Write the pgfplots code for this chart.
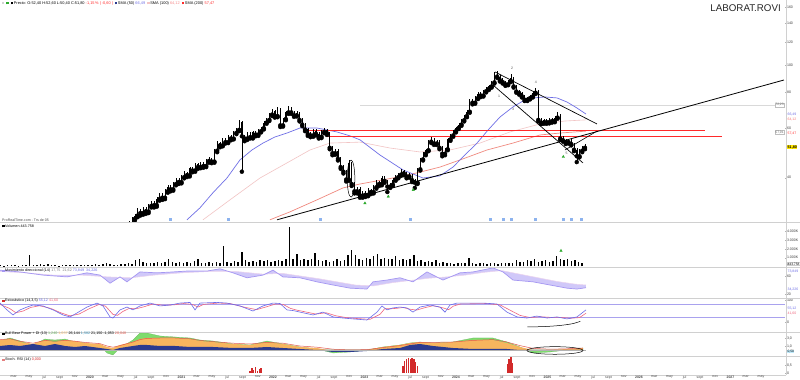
\documentclass[border=0pt]{standalone}
\usepackage{fontspec}
\setmainfont{Liberation Sans}
\usepackage{pgfplots}
\usepackage{pgfplotstable}
\pgfplotsset{compat=1.18}

\definecolor{smablue}{HTML}{6F6FE6}
\definecolor{smared}{HTML}{F08A80}
\definecolor{smapink}{HTML}{F2C4C4}
\definecolor{hred}{HTML}{FF2A2A}
\definecolor{mvline}{HTML}{A597F2}
\definecolor{mvsigc}{HTML}{EBD3EE}
\definecolor{mvfill}{HTML}{B7ACF6}
\definecolor{stblue}{HTML}{6B6BEA}
\definecolor{stred}{HTML}{F0667E}
\definecolor{stband}{HTML}{A9A2EE}
\definecolor{bbgreen}{HTML}{7EDC6E}
\definecolor{bborange}{HTML}{F7B55E}
\definecolor{bbblue}{HTML}{2B3A8F}
\definecolor{bbred}{HTML}{E2574C}
\definecolor{histred}{HTML}{D22A2A}
\definecolor{sep}{HTML}{D0D0D0}
\definecolor{divblue}{HTML}{8DB3EE}
\definecolor{arrowgreen}{HTML}{2DAA2D}
\definecolor{labyellow}{HTML}{FFE600}

% candles: time (years), open, high, low, close
\pgfplotstableread{
t o h l c
2020.40 26.4 27.4 26.0 27.0
2020.43 27.0 28.2 26.6 27.8
2020.46 27.8 29.0 27.4 28.6
2020.49 28.6 29.8 28.2 29.4
2020.52 29.4 31.2 29.0 30.6
2020.55 30.6 31.0 29.4 30.0
2020.58 30.0 31.6 29.6 31.0
2020.61 31.0 31.4 29.8 30.4
2020.64 30.4 32.4 30.0 31.8
2020.67 31.8 33.2 31.4 32.6
2020.70 32.6 33.0 31.4 32.0
2020.73 32.0 34.2 31.6 33.6
2020.76 33.6 35.4 33.2 34.8
2020.79 34.8 35.2 33.4 34.0
2020.82 34.0 36.4 33.6 35.8
2020.85 35.8 37.8 35.4 37.2
2020.88 37.2 37.6 35.8 36.4
2020.91 36.4 38.6 36.0 38.0
2020.94 38.0 40.0 37.6 39.4
2020.97 39.4 39.8 38.0 38.6
2021.00 38.6 40.8 38.2 40.2
2021.03 40.2 42.2 39.8 41.6
2021.06 41.6 42.0 40.2 40.8
2021.09 40.8 43.8 40.4 43.2
2021.12 43.2 43.6 41.8 42.4
2021.15 42.4 45.2 42.0 44.6
2021.18 44.6 45.0 43.0 43.6
2021.21 43.6 45.6 43.2 45.0
2021.24 45.0 45.4 43.4 44.0
2021.27 44.0 46.4 43.6 45.8
2021.30 45.8 47.2 45.2 46.6
2021.33 46.6 47.0 45.0 45.6
2021.36 45.6 50.4 45.2 49.8
2021.39 49.8 53.8 49.2 53.0
2021.42 53.0 53.6 51.2 52.0
2021.45 52.0 55.4 51.6 54.6
2021.48 54.6 55.2 52.8 53.4
2021.51 53.4 56.6 53.0 55.8
2021.54 55.8 56.4 54.2 55.0
2021.57 55.0 58.4 54.6 57.6
2021.60 57.6 59.8 57.0 59.0
2021.63 59.0 63.8 58.4 62.8
2021.66 62.8 63.4 42.0 56.0
2021.69 56.0 56.8 53.8 55.0
2021.72 55.0 58.0 54.4 57.2
2021.75 57.2 57.8 55.0 55.6
2021.78 55.6 58.6 55.0 57.8
2021.81 57.8 58.4 56.0 56.8
2021.84 56.8 59.2 56.2 58.4
2021.87 58.4 60.6 57.8 59.8
2021.90 59.8 63.4 59.2 62.6
2021.93 62.6 65.0 62.0 64.0
2021.96 64.0 67.8 63.4 66.8
2021.99 66.8 69.8 66.0 68.6
2022.02 68.6 69.4 65.2 66.0
2022.05 66.0 71.0 65.4 69.6
2022.08 69.6 70.2 60.4 61.2
2022.11 61.2 65.2 60.6 64.4
2022.14 64.4 68.8 63.8 68.0
2022.17 68.0 71.6 67.2 70.6
2022.20 70.6 71.2 67.2 68.0
2022.23 68.0 68.8 65.6 66.4
2022.26 66.4 68.6 65.8 67.6
2022.29 67.6 68.2 63.2 64.0
2022.32 64.0 64.8 60.8 61.6
2022.35 61.6 62.4 58.4 59.2
2022.38 59.2 59.8 56.2 57.0
2022.41 57.0 57.8 55.6 56.4
2022.44 56.4 59.4 55.8 58.6
2022.47 58.6 59.2 56.4 57.2
2022.50 57.2 57.8 55.0 55.8
2022.53 55.8 58.8 55.2 58.0
2022.56 58.0 59.8 57.4 59.0
2022.59 59.0 59.6 56.6 57.4
2022.62 57.4 58.0 50.4 51.0
2022.65 51.0 51.6 48.0 48.8
2022.68 48.8 50.6 48.2 49.8
2022.71 49.8 50.4 46.0 46.6
2022.74 46.6 47.2 43.0 43.6
2022.77 43.6 44.2 41.4 42.0
2022.80 42.0 42.6 38.8 39.4
2022.83 39.4 46.2 39.0 45.0
2022.86 45.0 45.6 37.4 38.0
2022.89 38.0 38.6 35.2 35.8
2022.92 35.8 37.2 35.2 36.6
2022.95 36.6 37.0 34.0 34.6
2022.98 34.6 36.0 34.0 35.4
2023.01 35.4 35.8 34.2 34.8
2023.04 34.8 36.8 34.4 36.2
2023.07 36.2 36.6 35.0 35.6
2023.10 35.6 37.6 35.2 37.0
2023.13 37.0 39.2 36.6 38.6
2023.16 38.6 39.0 37.4 38.0
2023.19 38.0 40.6 37.6 40.0
2023.22 40.0 40.4 38.4 39.0
2023.25 39.0 39.4 35.6 37.2
2023.28 37.2 38.4 36.8 37.8
2023.31 37.8 40.0 37.4 39.4
2023.34 39.4 40.8 39.0 40.2
2023.37 40.2 41.6 39.8 41.0
2023.40 41.0 42.8 40.6 42.2
2023.43 42.2 42.6 40.8 41.4
2023.46 41.4 41.8 39.8 40.4
2023.49 40.4 41.4 40.0 40.8
2023.52 40.8 41.2 38.6 39.2
2023.55 39.2 39.6 36.8 38.4
2023.58 38.4 43.4 38.0 42.8
2023.61 42.8 47.0 42.4 46.4
2023.64 46.4 49.2 46.0 48.6
2023.67 48.6 50.6 48.0 50.0
2023.70 50.0 54.2 49.6 53.6
2023.73 53.6 55.6 53.0 54.8
2023.76 54.8 55.4 52.2 52.8
2023.79 52.8 54.4 52.2 53.6
2023.82 53.6 54.2 50.4 51.0
2023.85 51.0 51.6 47.6 48.6
2023.88 48.6 51.0 48.0 50.4
2023.91 50.4 55.2 50.0 54.6
2023.94 54.6 57.0 54.0 56.4
2023.97 56.4 59.0 55.8 58.4
2024.00 58.4 60.6 57.8 60.0
2024.03 60.0 62.2 59.4 61.6
2024.06 61.6 64.4 61.0 63.8
2024.09 63.8 66.8 63.2 66.0
2024.12 66.0 69.2 65.4 68.4
2024.15 68.4 75.8 67.8 74.8
2024.18 74.8 75.6 72.6 73.6
2024.21 73.6 77.4 73.0 76.4
2024.24 76.4 80.2 75.8 79.2
2024.27 79.2 80.0 77.0 78.0
2024.30 78.0 81.8 77.4 80.8
2024.33 80.8 83.4 80.0 82.4
2024.36 82.4 85.0 81.6 84.0
2024.39 84.0 87.8 83.2 86.8
2024.42 86.8 94.8 86.0 92.6
2024.45 92.6 95.2 90.0 91.0
2024.48 91.0 92.0 87.4 88.4
2024.51 88.4 89.6 86.0 87.0
2024.54 87.0 88.0 84.4 85.4
2024.57 85.4 88.8 84.8 87.8
2024.60 87.8 93.0 87.0 90.0
2024.63 90.0 90.8 83.2 84.0
2024.66 84.0 84.8 79.8 80.6
2024.69 80.6 81.4 78.6 79.6
2024.72 79.6 80.4 76.8 77.6
2024.75 77.6 78.4 74.6 75.4
2024.78 75.4 77.2 74.6 76.4
2024.81 76.4 78.2 75.6 77.4
2024.84 77.4 80.8 76.8 79.8
2024.87 79.8 83.2 79.0 81.0
2024.90 81.0 81.6 63.2 64.0
2024.93 64.0 64.8 61.8 62.6
2024.96 62.6 64.6 62.0 63.8
2024.99 63.8 64.4 62.0 62.8
2025.02 62.8 65.2 62.2 64.4
2025.05 64.4 65.0 62.6 63.4
2025.08 63.4 66.0 62.8 65.2
2025.11 65.2 68.0 64.6 66.4
2025.14 66.4 67.0 54.4 55.0
2025.17 55.0 56.2 53.6 54.2
2025.20 54.2 55.0 52.6 53.4
2025.23 53.4 54.8 52.8 54.0
2025.26 54.0 54.6 52.0 52.6
2025.29 52.6 53.2 49.6 50.2
2025.32 50.2 50.8 45.4 47.6
2025.35 47.6 50.6 47.2 49.8
2025.38 49.8 51.8 49.2 51.0
2025.41 51.0 52.6 50.4 51.8
}\candles

\pgfplotstableread{
t p
2021.060 28.4
2021.202 31.3
2021.344 35.4
2021.497 39.9
2021.639 46.2
2021.770 50.1
2021.891 53.0
2022.022 55.7
2022.153 57.5
2022.295 59.9
2022.481 59.9
2022.699 58.0
2022.842 56.2
2022.951 54.4
2023.169 48.1
2023.421 42.6
2023.639 39.9
2023.825 40.6
2023.967 43.6
2024.098 48.1
2024.230 53.0
2024.350 58.9
2024.481 65.5
2024.623 71.1
2024.732 74.6
2024.842 76.5
2024.973 77.1
2025.104 76.5
2025.213 74.0
2025.322 70.5
2025.421 67.1
}\smaA

\pgfplotstableread{
t p
2021.235 28.4
2021.530 33.4
2021.858 39.9
2022.153 45.1
2022.404 50.1
2022.623 53.0
2022.951 53.4
2023.279 50.9
2023.607 49.3
2023.934 50.1
2024.262 53.0
2024.590 58.0
2024.918 61.9
2025.191 63.4
2025.421 64.0
}\smaB

\pgfplotstableread{
t p
2021.967 28.4
2022.186 30.3
2022.481 33.4
2022.765 36.8
2022.951 38.0
2023.311 39.9
2023.574 41.6
2023.825 43.6
2024.044 46.2
2024.339 50.1
2024.623 53.0
2024.918 56.6
2025.137 57.5
2025.421 58.4
}\smaC

\pgfplotstableread{
t v
2019.02 0.15
2019.06 0.10
2019.10 0.20
2019.14 0.12
2019.18 0.18
2019.22 0.10
2019.26 0.22
2019.30 0.15
2019.34 1.30
2019.38 0.12
2019.42 0.18
2019.46 0.28
2019.50 0.15
2019.54 0.25
2019.58 0.12
2019.62 0.15
2019.66 0.10
2019.70 0.18
2019.74 0.12
2019.78 0.15
2019.82 0.20
2019.86 0.12
2019.90 0.18
2019.94 0.15
2019.98 0.22
2020.02 0.18
2020.06 0.25
2020.10 0.20
2020.14 0.30
2020.18 0.45
2020.22 0.25
2020.26 0.18
2020.30 0.22
2020.34 0.30
2020.38 0.25
2020.42 0.35
2020.46 0.30
2020.50 0.70
2020.54 0.85
2020.58 0.55
2020.62 0.40
2020.66 0.45
2020.70 0.35
2020.74 0.50
2020.78 0.40
2020.82 0.55
2020.86 0.80
2020.90 0.50
2020.94 0.45
2020.98 0.55
2021.02 0.40
2021.06 0.50
2021.10 0.45
2021.14 0.60
2021.18 0.85
2021.22 0.45
2021.26 0.40
2021.30 0.50
2021.34 0.35
2021.38 0.55
2021.42 0.45
2021.46 2.30
2021.50 0.55
2021.54 0.45
2021.58 0.60
2021.62 0.50
2021.66 1.60
2021.70 0.70
2021.74 0.55
2021.78 0.65
2021.82 0.50
2021.86 0.75
2021.90 0.60
2021.94 0.70
2021.98 0.55
2022.02 0.65
2022.06 0.75
2022.10 0.60
2022.14 0.80
2022.18 4.55
2022.22 0.90
2022.26 1.45
2022.30 0.75
2022.34 0.85
2022.38 0.70
2022.42 0.80
2022.46 1.50
2022.50 0.70
2022.54 0.60
2022.58 0.75
2022.62 0.55
2022.66 0.65
2022.70 0.80
2022.74 0.60
2022.78 0.75
2022.82 1.30
2022.86 1.90
2022.90 1.35
2022.94 0.90
2022.98 0.75
2023.02 1.00
2023.06 0.80
2023.10 1.20
2023.14 1.40
2023.18 0.85
2023.22 1.00
2023.26 0.80
2023.30 0.90
2023.34 1.20
2023.38 0.75
2023.42 0.90
2023.46 0.70
2023.50 0.85
2023.54 1.30
2023.58 0.60
2023.62 0.70
2023.66 0.50
2023.70 0.65
2023.74 0.55
2023.78 0.70
2023.82 0.45
2023.86 0.55
2023.90 0.40
2023.94 0.35
2023.98 0.30
2024.02 0.40
2024.06 0.35
2024.10 0.45
2024.14 1.00
2024.18 0.40
2024.22 0.30
2024.26 0.35
2024.30 0.40
2024.34 0.30
2024.38 0.35
2024.42 0.45
2024.46 0.30
2024.50 0.40
2024.54 0.35
2024.58 0.45
2024.62 0.40
2024.66 0.75
2024.70 0.50
2024.74 0.55
2024.78 0.70
2024.82 0.60
2024.86 0.90
2024.90 0.55
2024.94 0.65
2024.98 0.75
2025.02 0.50
2025.06 0.65
2025.10 1.15
2025.14 0.85
2025.18 0.75
2025.22 0.80
2025.26 0.65
2025.30 0.70
2025.34 0.55
2025.38 0.45
}\volume

\pgfplotstableread{
t v
2019.016 73
2019.235 69
2019.486 62
2019.749 58
2019.967 67
2020.109 62
2020.219 44
2020.328 58
2020.404 47
2020.546 69
2020.732 67
2020.907 69
2021.060 71
2021.279 71
2021.421 76
2021.563 67
2021.716 56
2021.891 62
2022.000 73
2022.109 58
2022.295 56
2022.481 47
2022.656 40
2022.842 33
2023.027 31
2023.093 47
2023.246 51
2023.388 56
2023.530 47
2023.683 69
2023.858 51
2024.044 67
2024.186 69
2024.404 78
2024.514 69
2024.623 51
2024.842 47
2025.027 40
2025.213 33
2025.322 31
2025.421 34
}\mvmain

\pgfplotstableread{
t v
2019.016 70
2019.300 67
2019.600 62
2019.900 62
2020.200 58
2020.450 56
2020.700 62
2021.000 67
2021.300 70
2021.600 70
2021.900 64
2022.100 66
2022.300 60
2022.500 54
2022.700 47
2022.900 40
2023.100 38
2023.300 45
2023.500 50
2023.700 55
2023.900 58
2024.100 62
2024.300 68
2024.500 72
2024.700 64
2024.900 56
2025.100 48
2025.300 42
2025.421 40
}\mvsignal

% area between main line (forward) and signal line (backward)
\pgfplotstableread{
t v
2019.016 73
2019.235 69
2019.486 62
2019.749 58
2019.967 67
2020.109 62
2020.219 44
2020.328 58
2020.404 47
2020.546 69
2020.732 67
2020.907 69
2021.060 71
2021.279 71
2021.421 76
2021.563 67
2021.716 56
2021.891 62
2022.000 73
2022.109 58
2022.295 56
2022.481 47
2022.656 40
2022.842 33
2023.027 31
2023.093 47
2023.246 51
2023.388 56
2023.530 47
2023.683 69
2023.858 51
2024.044 67
2024.186 69
2024.404 78
2024.514 69
2024.623 51
2024.842 47
2025.027 40
2025.213 33
2025.322 31
2025.421 34
2025.421 40
2025.300 42
2025.100 48
2024.900 56
2024.700 64
2024.500 72
2024.300 68
2024.100 62
2023.900 58
2023.700 55
2023.500 50
2023.300 45
2023.100 38
2022.900 40
2022.700 47
2022.500 54
2022.300 60
2022.100 66
2021.900 64
2021.600 70
2021.300 70
2021.000 67
2020.700 62
2020.450 56
2020.200 58
2019.900 62
2019.600 62
2019.300 67
2019.016 70
}\mvarea

\pgfplotstableread{
t v
2019.016 86
2019.093 55
2019.158 32
2019.235 55
2019.311 68
2019.377 77
2019.486 73
2019.596 55
2019.705 32
2019.781 23
2019.858 41
2019.967 68
2020.077 86
2020.142 73
2020.219 23
2020.251 18
2020.328 55
2020.404 68
2020.470 55
2020.546 73
2020.656 86
2020.765 73
2020.874 77
2020.984 86
2021.093 89
2021.148 55
2021.202 86
2021.388 89
2021.497 86
2021.639 73
2021.781 50
2021.891 73
2022.000 86
2022.077 84
2022.153 55
2022.219 52
2022.295 45
2022.437 32
2022.546 45
2022.656 23
2022.765 18
2022.874 14
2023.027 9
2023.137 45
2023.191 73
2023.246 55
2023.311 64
2023.388 68
2023.464 64
2023.530 45
2023.607 68
2023.716 77
2023.825 68
2023.880 45
2023.934 77
2024.011 86
2024.295 86
2024.448 82
2024.557 45
2024.667 23
2024.776 18
2024.885 27
2024.995 18
2025.104 23
2025.213 14
2025.322 23
2025.421 55
}\stK

\pgfplotstableread{
t v
2019.016 80
2019.120 62
2019.190 42
2019.270 50
2019.350 66
2019.450 74
2019.570 62
2019.680 42
2019.780 28
2019.880 36
2019.990 60
2020.100 80
2020.170 72
2020.250 35
2020.300 30
2020.360 48
2020.430 62
2020.500 60
2020.580 68
2020.690 82
2020.800 76
2020.920 78
2021.020 84
2021.120 80
2021.180 68
2021.240 80
2021.400 86
2021.530 84
2021.680 68
2021.820 56
2021.920 68
2022.030 82
2022.110 80
2022.190 62
2022.260 54
2022.330 48
2022.470 36
2022.580 42
2022.690 28
2022.800 20
2022.910 16
2023.060 12
2023.170 35
2023.220 60
2023.280 60
2023.350 62
2023.420 66
2023.500 58
2023.570 54
2023.650 64
2023.750 74
2023.860 64
2023.920 56
2023.970 72
2024.050 82
2024.330 84
2024.480 78
2024.590 54
2024.700 30
2024.810 20
2024.920 24
2025.030 21
2025.140 21
2025.250 17
2025.350 20
2025.421 40
}\stD

\pgfplotstableread{
t O B G R
2019.016 2.50 1.00 2.25 2.6
2019.126 2.75 1.25 3.00 2.8
2019.235 2.00 1.00 2.25 2.2
2019.377 1.50 1.50 1.25 1.7
2019.508 2.50 1.00 2.75 2.4
2019.617 2.00 1.50 2.50 2.2
2019.727 2.50 1.00 2.75 2.4
2019.836 2.25 0.75 2.00 2.2
2019.945 1.75 1.00 1.75 1.9
2020.109 1.50 0.50 1.00 1.6
2020.186 0.75 0.25 -0.75 1.0
2020.251 0.50 0.00 -1.25 0.7
2020.328 1.25 0.50 0.50 1.1
2020.470 2.00 1.00 2.50 2.0
2020.546 2.75 1.25 4.25 2.6
2020.623 3.00 1.25 4.25 2.9
2020.765 3.00 1.00 3.50 3.0
2020.929 3.00 1.00 3.25 3.0
2021.093 2.75 0.75 3.00 2.8
2021.202 2.25 0.75 2.50 2.4
2021.344 2.00 0.75 2.25 2.1
2021.563 1.50 0.50 1.50 1.7
2021.749 1.25 0.50 1.25 1.5
2021.934 2.00 0.75 2.25 1.9
2022.109 1.50 0.50 1.50 1.7
2022.295 0.75 0.25 0.75 1.0
2022.481 0.50 0.00 0.25 0.7
2022.656 -0.25 -0.50 -0.75 0.2
2022.842 -0.25 -0.50 -0.50 0.0
2023.027 0.00 -0.25 0.00 0.1
2023.202 0.75 0.25 0.75 0.6
2023.388 1.25 0.50 1.25 1.1
2023.497 1.75 1.25 1.75 1.5
2023.607 2.00 1.50 2.00 1.9
2023.749 1.75 1.00 1.75 1.9
2023.967 2.00 0.50 2.00 2.0
2024.186 2.50 0.25 3.00 2.4
2024.404 2.50 0.25 3.00 2.6
2024.557 1.75 0.25 2.00 2.0
2024.699 0.75 0.00 0.75 1.1
2024.842 0.00 -0.25 -0.75 0.4
2025.027 0.00 -0.25 -0.50 0.2
2025.213 0.25 -0.25 0.00 0.3
2025.388 0.50 0.00 0.50 0.5
}\bullbear

\pgfplotstableread{
t v
2021.75 0.15
2021.77 0.30
2021.79 0.20
2021.81 0.35
2021.83 0.10
2021.85 0.25
2021.87 0.30
2023.42 0.45
2023.44 0.75
2023.46 0.90
2023.48 0.95
2023.50 0.90
2023.52 0.95
2023.54 0.85
2023.56 0.70
2023.58 0.45
2024.56 0.55
2024.58 0.90
2024.60 1.00
2024.62 0.60
}\histo

\pgfplotsset{
  pnl/.style={
    scale only axis, width=786bp, xmin=2019.0164, xmax=2027.607,
    anchor=north west,
    axis y line*=right,
    axis line style={draw=sep, line width=0.4bp},
    major tick length=1.2bp,
    tick style={draw=gray!60, line width=0.3bp},
    yticklabel style={font=\fontsize{3.6}{4}\selectfont, text=black!75, inner sep=0.8bp},
    clip=true,
  },
  nox/.style={axis x line=none},
}

\begin{document}
\begin{tikzpicture}
\path[use as bounding box] (0bp,0bp) rectangle (800bp,380bp);
\fill[white] (0bp,0bp) rectangle (800bp,380bp);

% ---------------- price panel ----------------
\begin{axis}[pnl, nox, at={(0bp,380bp)}, height=222bp,
  ymode=log, ymin=27.9, ymax=169.6,
  ytick={40,60,80,100,120,140,160}, yticklabels={40,60,80,100,120,140,160}]
\addplot[gray!30, line width=0.4bp] coordinates {(2022.951,72.2) (2027.6,72.2)};
\addplot[smapink, line width=0.6bp] table[x=t,y=p] {\smaB};
\addplot[smared, line width=0.7bp] table[x=t,y=p] {\smaC};
\addplot[smablue, line width=0.7bp] table[x=t,y=p] {\smaA};
\addplot[hred, line width=0.9bp] coordinates {(2022.328,58.95) (2026.721,58.95)};
\addplot[hred, line width=0.9bp] coordinates {(2022.590,55.7) (2026.907,55.7)};
\addplot[black, line width=0.8bp] coordinates {(2022.044,28.4) (2027.585,88.5)};
\addplot[black, line width=0.7bp] coordinates {(2024.426,94.5) (2025.541,61.9)};
\addplot[black, line width=0.7bp] coordinates {(2024.404,85.0) (2025.388,45.1)};
\addplot[black, line width=0.6bp] coordinates {(2025.191,50.1) (2025.541,58.4)};
% wicks
\addplot[only marks, mark=none, forget plot,
  error bars/.cd, y dir=plus, y explicit, error mark=none,
  error bar style={draw=black, line width=0.45bp}]
  table[x=t, y=l, y error plus expr={\thisrow{h}-\thisrow{l}}] {\candles};
% bodies
\addplot[only marks, mark=none, forget plot,
  error bars/.cd, y dir=plus, y explicit, error mark=none,
  error bar style={draw=black, line width=1.0bp}]
  table[x=t, y expr={min(\thisrow{o},\thisrow{c})}, y error plus expr={abs(\thisrow{c}-\thisrow{o})}] {\candles};
% green arrows
\addplot[only marks, mark=triangle*, mark size=1.4bp, color=arrowgreen] coordinates
  {(2023.005,32.5) (2023.260,34.3) (2023.533,36.2) (2025.173,47.4)};
% dividend markers
\addplot[only marks, mark=square*, mark size=1.1bp, color=divblue] coordinates
  {(2020.874,28.6) (2021.508,28.6) (2022.514,28.6) (2023.497,28.6) (2024.372,28.6)
   (2024.514,28.6) (2024.601,28.6) (2024.863,28.6) (2025.169,28.6) (2025.257,28.6) (2025.366,28.6)};
\draw[black, line width=0.5bp] (axis cs:2022.853,39.7) ellipse [x radius=3.8bp, y radius=18.5bp];
\node[font=\fontsize{3.5}{4}\selectfont, text=black!70] at (axis cs:2024.47,77.7) {1};
\node[font=\fontsize{3.5}{4}\selectfont, text=black!70] at (axis cs:2024.612,97.0) {2};
\node[font=\fontsize{3.5}{4}\selectfont, text=black!70] at (axis cs:2024.623,69.9) {3};
\node[font=\fontsize{3.5}{4}\selectfont, text=black!70] at (axis cs:2024.874,87.0) {4};
\node[font=\fontsize{3.5}{4}\selectfont, text=black!70] at (axis cs:2025.21,48.9) {5};
\node[draw=gray!50, fill=white, inner sep=0.6bp, font=\fontsize{3.3}{3.8}\selectfont, text=black!60, anchor=east] at (axis cs:2027.59,72.2) {72,23};
\node[draw=gray!50, fill=white, inner sep=0.6bp, font=\fontsize{3.3}{3.8}\selectfont, text=black!60, anchor=east] at (axis cs:2027.59,57.9) {57,91};
\end{axis}

% ---------------- volume ----------------
\begin{axis}[pnl, nox, at={(0bp,158bp)}, height=45bp, ymin=-0.06, ymax=5.09,
  ytick={1,2,3,4}, yticklabels={1.000K,2.000K,3.000K,4.000K}]
\addplot[ycomb, black, line width=1.5bp] table[x=t,y=v] {\volume};
\addplot[only marks, mark=triangle*, mark size=1.4bp, color=arrowgreen] coordinates {(2025.148,1.8)};
\end{axis}

% ---------------- movement ----------------
\begin{axis}[pnl, nox, at={(0bp,113bp)}, height=31bp, ymin=11.1, ymax=80,
  ytick={20,60}, yticklabels={20,60}]
\addplot[fill=mvfill, fill opacity=0.65, draw=none] table[x=t,y=v] {\mvarea};
\addplot[mvsigc, line width=0.5bp] table[x=t,y=v] {\mvsignal};
\addplot[mvline, line width=0.7bp] table[x=t,y=v] {\mvmain};
\end{axis}

% ---------------- stochastic ----------------
\begin{axis}[pnl, nox, at={(0bp,82bp)}, height=34bp, ymin=-45.5, ymax=109.1,
  ytick={0,100}, yticklabels={0,100}]
\addplot[stband, line width=0.5bp] coordinates {(2019.0,80) (2027.6,80)};
\addplot[stband, line width=0.5bp] coordinates {(2019.0,20) (2027.6,20)};
\addplot[stred, line width=0.6bp] table[x=t,y=v] {\stD};
\addplot[stblue, line width=0.6bp] table[x=t,y=v] {\stK};
\addplot[black, line width=0.5bp, smooth] coordinates {(2024.78,-22.5) (2024.95,-21) (2025.12,-16.5) (2025.27,-8) (2025.36,3)};
\end{axis}

% ---------------- bull bear ----------------
\begin{axis}[pnl, nox, at={(0bp,48bp)}, height=24bp, ymin=-1.5, ymax=4.5,
  ytick={1,3}, yticklabels={{1,0},{3,0}}]
\addplot[fill=bbgreen, draw=bbgreen!80!black, line width=0.2bp] table[x=t,y=G] {\bullbear} \closedcycle;
\addplot[fill=bborange, draw=none] table[x=t,y=O] {\bullbear} \closedcycle;
\addplot[fill=bbblue, draw=none] table[x=t,y=B] {\bullbear} \closedcycle;
\addplot[bbred, line width=0.5bp] table[x=t,y=R] {\bullbear};
\addplot[gray!60, line width=0.3bp] coordinates {(2019.0,0) (2025.42,0)};
\draw[black, line width=0.5bp] (axis cs:2025.082,-0.12) ellipse [x radius=28bp, y radius=3.8bp];
\end{axis}

% ---------------- bottom histogram with time axis ----------------
\begin{axis}[pnl, at={(0bp,24bp)}, height=19bp, ymin=-0.125, ymax=1.0625,
  ytick={0,0.5}, yticklabels={0,{0,5}},
  axis x line*=bottom,
  xtick={2019.1667,2019.3333,2019.5,2019.6667,2019.8333,
    2020,2020.1667,2020.3333,2020.5,2020.6667,2020.8333,
    2021,2021.1667,2021.3333,2021.5,2021.6667,2021.8333,
    2022,2022.1667,2022.3333,2022.5,2022.6667,2022.8333,
    2023,2023.1667,2023.3333,2023.5,2023.6667,2023.8333,
    2024,2024.1667,2024.3333,2024.5,2024.6667,2024.8333,
    2025,2025.1667,2025.3333,2025.5,2025.6667,2025.8333,
    2026,2026.1667,2026.3333,2026.5,2026.6667,2026.8333,
    2027,2027.1667,2027.3333},
  xticklabels={mar,may,jul,sept,nov,
    \textbf{2020},mar,may,jul,sept,nov,
    \textbf{2021},mar,may,jul,sept,nov,
    \textbf{2022},mar,may,jul,sept,nov,
    \textbf{2023},mar,may,jul,sept,nov,
    \textbf{2024},mar,may,jul,sept,nov,
    \textbf{2025},mar,may,jul,sept,nov,
    \textbf{2026},mar,may,jul,sept,nov,
    \textbf{2027},mar,may},
  x tick style={draw=none},
  xticklabel style={font=\fontsize{3.5}{4}\selectfont, text=black!70, inner sep=0.6bp}]
\addplot[ycomb, color=histred, line width=1.4bp] table[x=t,y=v] {\histo};
\end{axis}

\begin{scope}[x=1bp,y=1bp]
\foreach \yy in {158,113,82,48,24} {\draw[sep, line width=0.4bp] (0,\yy) -- (800,\yy);}
\node[anchor=north east, inner sep=0, font=\fontsize{9.8}{11}\selectfont, text=black!85] at (781,375.5) {LABORAT.ROVI};
\node[anchor=west, inner sep=0, font=\fontsize{3.9}{4.5}\selectfont] at (2,376.5)
 {\textcolor{gray}{x}\enspace\textcolor{arrowgreen}{\rule{2.6bp}{2.6bp}}\enspace\rule{2.6bp}{2.6bp}\,Precio: O:52,40 H:52,60 L:50,40 C:51,80 \textcolor{hred}{-1,15\,\% | -0,60 |}\enspace\textcolor{bbblue}{\rule{2.6bp}{2.6bp}}\,SMA (50) \textcolor{smablue}{66,49}\enspace\textcolor{smapink}{\rule{2.6bp}{2.6bp}}\,SMA (100) \textcolor{smapink!70!red}{64,12}\enspace\textcolor{hred}{\rule{2.6bp}{2.6bp}}\,SMA (200) \textcolor{hred}{57,47}};
\node[anchor=west, inner sep=0, font=\fontsize{3.6}{4}\selectfont, text=black!70] at (2,159.5) {ProRealTime.com - Trs de 05};
\node[anchor=west, inner sep=0, font=\fontsize{3.7}{4.3}\selectfont] at (2,154) {\rule{2.4bp}{2.4bp}\,Volumen 443.758};
\node[anchor=west, inner sep=0, font=\fontsize{3.7}{4.3}\selectfont] at (2,109) {\textcolor{mvline}{\rule{2.4bp}{2.4bp}}\,Movimiento direccional (14) \textcolor{gray}{17,75 \ 21,62}\ \textcolor{smablue}{73,849 \ 34,226}};
\node[anchor=west, inner sep=0, font=\fontsize{3.7}{4.3}\selectfont] at (2,79) {\textcolor{histred}{\rule{2.4bp}{2.4bp}}\,Estocástico (14,3,5) \textcolor{stblue}{55,12} \textcolor{stred}{41,60}};
\node[anchor=west, inner sep=0, font=\fontsize{3.7}{4.3}\selectfont] at (2,46) {\rule{2.4bp}{2.4bp}\,Bull Bear Power + DI (13) \textcolor{bbgreen!80!black}{1,240}\ \textcolor{bborange}{1,037}\ 26,144\ \textcolor{cyan!70!black}{1,582}\ 21,150\ -1,053\ \textcolor{bbred}{20,048}};
\node[anchor=west, inner sep=0, font=\fontsize{3.7}{4.3}\selectfont] at (2,20) {\textcolor{histred!60}{\rule{2.4bp}{2.4bp}}\,Stoch. RSI (14) \textcolor{histred}{0,000}};
\node[anchor=west, inner sep=0.4bp, font=\fontsize{3.5}{4}\selectfont, text=smablue] at (787,265) {66,49};
\node[anchor=west, inner sep=0.4bp, font=\fontsize{3.5}{4}\selectfont, text=smapink!60!red] at (787,260) {64,12};
\node[anchor=west, inner sep=0.4bp, font=\fontsize{3.5}{4}\selectfont, text=hred] at (787,246) {57,47};
\node[anchor=west, inner sep=0.5bp, fill=labyellow, font=\bfseries\fontsize{3.7}{4}\selectfont] at (787,233) {51,80};
\node[anchor=west, inner sep=0.4bp, font=\fontsize{3.3}{4}\selectfont, draw=gray!40] at (787,116) {443.758};
\node[anchor=west, inner sep=0.4bp, font=\fontsize{3.5}{4}\selectfont, text=smablue] at (787,108.5) {73,849};
\node[anchor=west, inner sep=0.4bp, font=\fontsize{3.5}{4}\selectfont, text=smablue] at (787,90.5) {34,226};
\node[anchor=west, inner sep=0.4bp, font=\fontsize{3.5}{4}\selectfont, text=stblue] at (787,71) {55,12};
\node[anchor=west, inner sep=0.4bp, font=\fontsize{3.5}{4}\selectfont, text=stred] at (787,66) {41,60};
\node[anchor=west, inner sep=0.4bp, font=\fontsize{3.3}{4}\selectfont, fill=cyan!25] at (787,28.5) {0,50};
\end{scope}
\end{tikzpicture}
\end{document}
